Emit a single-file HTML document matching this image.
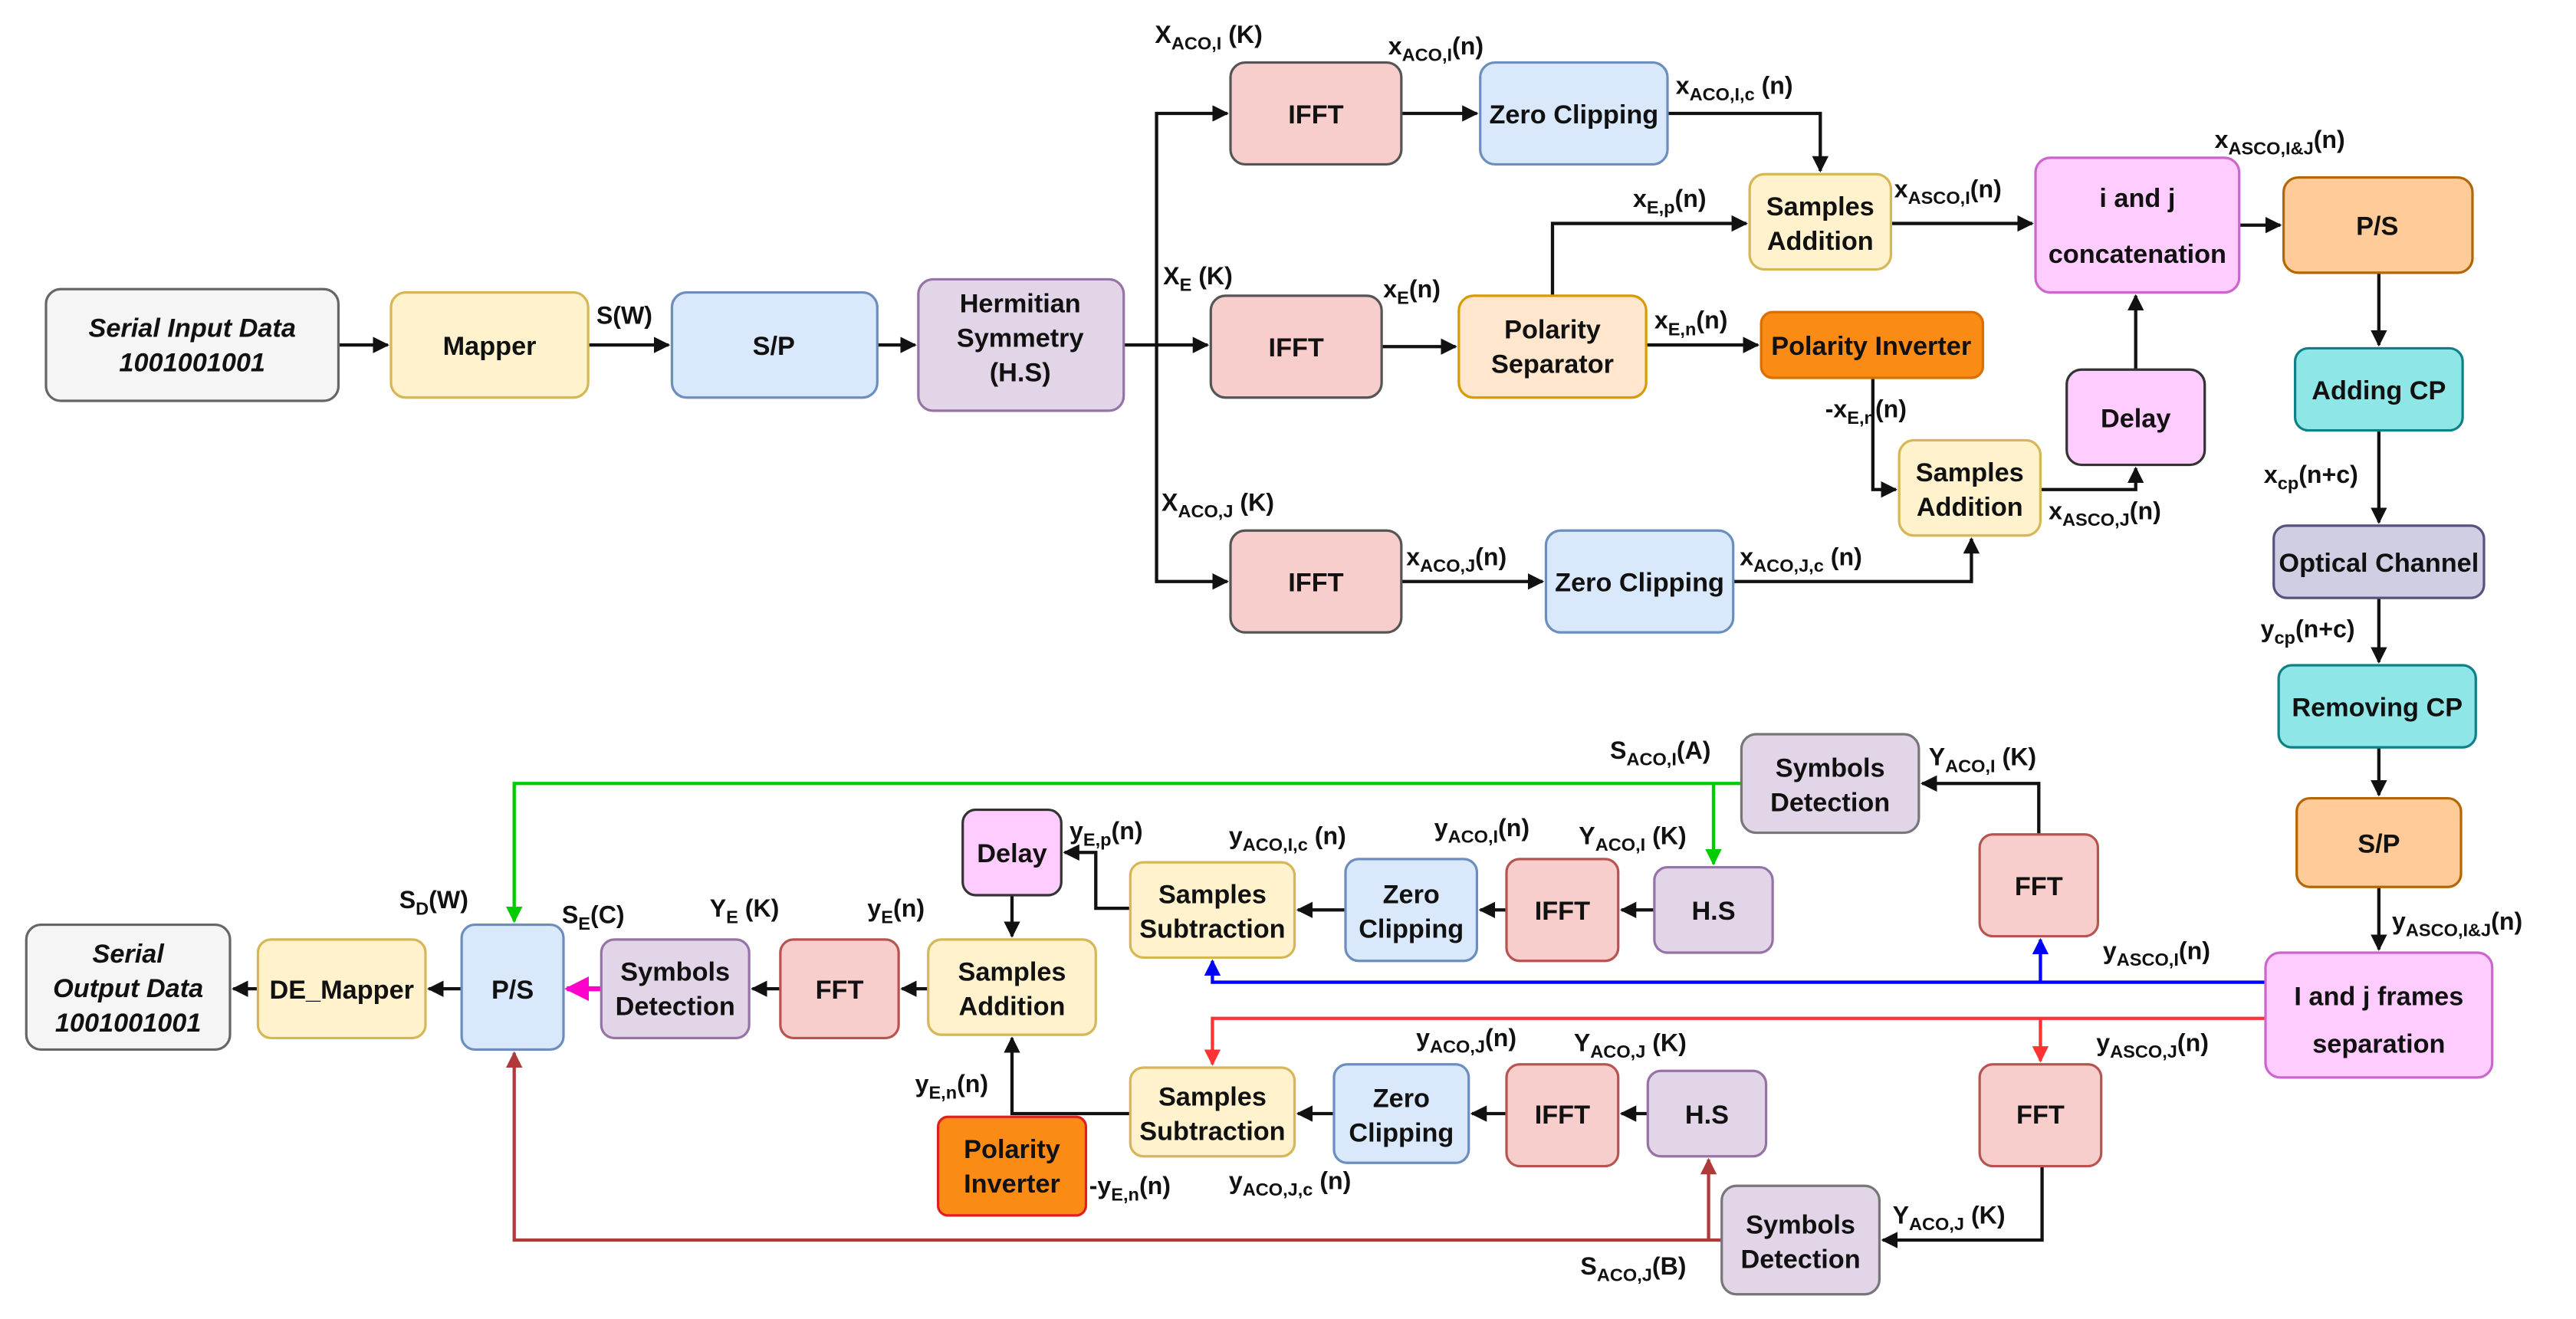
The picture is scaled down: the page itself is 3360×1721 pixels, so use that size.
<!DOCTYPE html>
<html><head><meta charset="utf-8"><style>
html,body{margin:0;padding:0;background:#fff;}
svg{display:block;}
text{font-family:"Liberation Sans",Arial,sans-serif;font-weight:bold;fill:#111;}
.b{font-size:16px;text-anchor:middle;}
.l{font-size:15px;}
.s{font-size:11px;}
</style></head><body>
<svg width="3360" height="1721" viewBox="0 0 1568 803" xmlns="http://www.w3.org/2000/svg">
<defs>
<marker id="a" viewBox="0 0 10 10" refX="9" refY="5" markerWidth="5" markerHeight="5" orient="auto"><path d="M0,0L10,5L0,10z" fill="#111"/></marker>
<marker id="g" viewBox="0 0 10 10" refX="9" refY="5" markerWidth="5" markerHeight="5" orient="auto"><path d="M0,0L10,5L0,10z" fill="#00cc00"/></marker>
<marker id="bl" viewBox="0 0 10 10" refX="9" refY="5" markerWidth="5" markerHeight="5" orient="auto"><path d="M0,0L10,5L0,10z" fill="#0000ff"/></marker>
<marker id="r" viewBox="0 0 10 10" refX="9" refY="5" markerWidth="5" markerHeight="5" orient="auto"><path d="M0,0L10,5L0,10z" fill="#ff3333"/></marker>
<marker id="dr" viewBox="0 0 10 10" refX="9" refY="5" markerWidth="5" markerHeight="5" orient="auto"><path d="M0,0L10,5L0,10z" fill="#b03a3a"/></marker>
<marker id="m" viewBox="0 0 10 10" refX="9" refY="5" markerWidth="5" markerHeight="5" orient="auto"><path d="M0,0L10,5L0,10z" fill="#ff00cc"/></marker>
</defs>
<g fill="none" stroke="#111" stroke-width="2" marker-end="url(#a)">
<path d="M206,210H236"/><path d="M358,210H407"/><path d="M534,210H557"/>
<path d="M684,210H735"/>
<path d="M704,210V69H747"/><path d="M704,210V354H747"/>
<path d="M853,69H899"/><path d="M1015,69H1108V104"/>
<path d="M841,211H886"/><path d="M945,180V136H1063"/>
<path d="M1002,210H1070"/>
<path d="M1140,230V298H1154"/>
<path d="M853,354H939"/><path d="M1055,354H1200V328"/>
<path d="M1151,136H1237"/><path d="M1242,298H1300V285"/>
<path d="M1300,225V180"/>
<path d="M1363,137H1388"/>
<path d="M1448,166V210"/><path d="M1448,262V318"/><path d="M1448,364V403"/><path d="M1448,455V484"/><path d="M1448,540V578"/>
<path d="M1241,508V477H1170"/>
<path d="M1007,554H987"/><path d="M917,554H901"/><path d="M819,554H790"/>
<path d="M688,553H667V519H648"/><path d="M616,545V570"/>
<path d="M565,602H549"/><path d="M475,602H458"/>
<path d="M281,602H261"/><path d="M157,602H142"/>
<path d="M1243,710V755H1146"/>
<path d="M1003,678H987"/><path d="M917,678H896"/><path d="M812,678H790"/>
<path d="M688,678H616V632"/>
</g>
<path d="M1060,477H313V561" fill="none" stroke="#00cc00" stroke-width="2" marker-end="url(#g)"/>
<path d="M1043,477V526" fill="none" stroke="#00cc00" stroke-width="2" marker-end="url(#g)"/>
<path d="M1379,598H738V585" fill="none" stroke="#0000ff" stroke-width="2" marker-end="url(#bl)"/>
<path d="M1242,598V572" fill="none" stroke="#0000ff" stroke-width="2" marker-end="url(#bl)"/>
<path d="M1379,620H738V648" fill="none" stroke="#ff3333" stroke-width="2" marker-end="url(#r)"/>
<path d="M1242,620V646" fill="none" stroke="#ff3333" stroke-width="2" marker-end="url(#r)"/>
<path d="M1048,755H313V641" fill="none" stroke="#b03a3a" stroke-width="2" marker-end="url(#dr)"/>
<path d="M1040,755V706" fill="none" stroke="#b03a3a" stroke-width="2" marker-end="url(#dr)"/>
<path d="M366,602H345" fill="none" stroke="#ff00cc" stroke-width="3" marker-end="url(#m)"/>

<g stroke-width="1.5">
<rect x="28" y="176" width="178" height="68" rx="9" fill="#f5f5f5" stroke="#666"/>
<rect x="238" y="178" width="120" height="64" rx="9" fill="#fff2cc" stroke="#d6b656"/>
<rect x="409" y="178" width="125" height="64" rx="9" fill="#dae8fc" stroke="#6c8ebf"/>
<rect x="559" y="170" width="125" height="80" rx="9" fill="#e1d5e7" stroke="#9673a6"/>
<rect x="749" y="38" width="104" height="62" rx="9" fill="#f8cecc" stroke="#555"/>
<rect x="901" y="38" width="114" height="62" rx="9" fill="#dae8fc" stroke="#6c8ebf"/>
<rect x="737" y="180" width="104" height="62" rx="9" fill="#f8cecc" stroke="#555"/>
<rect x="888" y="180" width="114" height="62" rx="9" fill="#ffe6cc" stroke="#d79b00"/>
<rect x="1072" y="190" width="135" height="40" rx="7" fill="#fa8c16" stroke="#d96f00"/>
<rect x="1065" y="106" width="86" height="58" rx="9" fill="#fff2cc" stroke="#d6b656"/>
<rect x="1239" y="96" width="124" height="82" rx="9" fill="#ffccff" stroke="#cc66cc"/>
<rect x="1390" y="108" width="115" height="58" rx="9" fill="#ffcc99" stroke="#b46504"/>
<rect x="1258" y="225" width="84" height="58" rx="9" fill="#ffccff" stroke="#333"/>
<rect x="1156" y="268" width="86" height="58" rx="9" fill="#fff2cc" stroke="#d6b656"/>
<rect x="749" y="323" width="104" height="62" rx="9" fill="#f8cecc" stroke="#555"/>
<rect x="941" y="323" width="114" height="62" rx="9" fill="#dae8fc" stroke="#6c8ebf"/>
<rect x="1397" y="212" width="102" height="50" rx="8" fill="#8ee6e6" stroke="#0e8088"/>
<rect x="1384" y="320" width="128" height="44" rx="8" fill="#d0cee2" stroke="#56517e"/>
<rect x="1387" y="405" width="120" height="50" rx="8" fill="#8ee6e6" stroke="#0e8088"/>
<rect x="1398" y="486" width="100" height="54" rx="8" fill="#ffcc99" stroke="#b46504"/>
<rect x="1379" y="580" width="138" height="76" rx="9" fill="#ffccff" stroke="#cc66cc"/>
<rect x="1060" y="447" width="108" height="60" rx="9" fill="#e1d5e7" stroke="#777"/>
<rect x="1205" y="508" width="72" height="62" rx="8" fill="#f8cecc" stroke="#b85450"/>
<rect x="1007" y="528" width="72" height="52" rx="8" fill="#e1d5e7" stroke="#9673a6"/>
<rect x="917" y="523" width="68" height="62" rx="8" fill="#f8cecc" stroke="#b85450"/>
<rect x="819" y="523" width="80" height="62" rx="8" fill="#dae8fc" stroke="#6c8ebf"/>
<rect x="688" y="525" width="100" height="58" rx="8" fill="#fff2cc" stroke="#d6b656"/>
<rect x="586" y="493" width="60" height="52" rx="8" fill="#ffccff" stroke="#333"/>
<rect x="565" y="572" width="102" height="58" rx="8" fill="#fff2cc" stroke="#d6b656"/>
<rect x="475" y="572" width="72" height="60" rx="8" fill="#f8cecc" stroke="#b85450"/>
<rect x="366" y="572" width="90" height="60" rx="8" fill="#e1d5e7" stroke="#9673a6"/>
<rect x="281" y="563" width="62" height="76" rx="8" fill="#dae8fc" stroke="#6c8ebf"/>
<rect x="157" y="572" width="102" height="60" rx="8" fill="#fff2cc" stroke="#d6b656"/>
<rect x="16" y="563" width="124" height="76" rx="9" fill="#f5f5f5" stroke="#666"/>
<rect x="1205" y="648" width="74" height="62" rx="8" fill="#f8cecc" stroke="#b85450"/>
<rect x="1003" y="652" width="72" height="52" rx="8" fill="#e1d5e7" stroke="#9673a6"/>
<rect x="917" y="648" width="68" height="62" rx="8" fill="#f8cecc" stroke="#b85450"/>
<rect x="812" y="648" width="82" height="60" rx="8" fill="#dae8fc" stroke="#6c8ebf"/>
<rect x="688" y="650" width="100" height="54" rx="8" fill="#fff2cc" stroke="#d6b656"/>
<rect x="571" y="680" width="90" height="60" rx="6" fill="#fa8c16" stroke="#e02020"/>
<rect x="1048" y="722" width="96" height="66" rx="9" fill="#e1d5e7" stroke="#777"/>
</g>

<g class="b">
<text x="117" y="205" font-style="italic" fill="#333">Serial Input Data</text>
<text x="117" y="226" font-style="italic" fill="#333">1001001001</text>
<text x="298" y="216">Mapper</text>
<text x="471" y="216">S/P</text>
<text x="621" y="190">Hermitian</text><text x="621" y="211">Symmetry</text><text x="621" y="232">(H.S)</text>
<text x="801" y="75">IFFT</text>
<text x="958" y="75">Zero Clipping</text>
<text x="789" y="217">IFFT</text>
<text x="945" y="206">Polarity</text><text x="945" y="227">Separator</text>
<text x="1139" y="216">Polarity Inverter</text>
<text x="1108" y="131">Samples</text><text x="1108" y="152">Addition</text>
<text x="1301" y="126">i and j</text><text x="1301" y="160">concatenation</text>
<text x="1447" y="143">P/S</text>
<text x="1300" y="260">Delay</text>
<text x="1199" y="293">Samples</text><text x="1199" y="314">Addition</text>
<text x="801" y="360">IFFT</text>
<text x="998" y="360">Zero Clipping</text>
<text x="1448" y="243">Adding CP</text>
<text x="1448" y="348">Optical Channel</text>
<text x="1447" y="436">Removing CP</text>
<text x="1448" y="519">S/P</text>
<text x="1448" y="612">I and j frames</text><text x="1448" y="641">separation</text>
<text x="1114" y="473">Symbols</text><text x="1114" y="494">Detection</text>
<text x="1241" y="545">FFT</text>
<text x="1043" y="560">H.S</text>
<text x="951" y="560">IFFT</text>
<text x="859" y="550">Zero</text><text x="859" y="571">Clipping</text>
<text x="738" y="550">Samples</text><text x="738" y="571">Subtraction</text>
<text x="616" y="525">Delay</text>
<text x="616" y="597">Samples</text><text x="616" y="618">Addition</text>
<text x="511" y="608">FFT</text>
<text x="411" y="597">Symbols</text><text x="411" y="618">Detection</text>
<text x="312" y="608">P/S</text>
<text x="208" y="608">DE_Mapper</text>
<text x="78" y="586" font-style="italic" fill="#333">Serial</text>
<text x="78" y="607" font-style="italic" fill="#333">Output Data</text>
<text x="78" y="628" font-style="italic" fill="#333">1001001001</text>
<text x="1242" y="684">FFT</text>
<text x="1039" y="684">H.S</text>
<text x="951" y="684">IFFT</text>
<text x="853" y="674">Zero</text><text x="853" y="695">Clipping</text>
<text x="738" y="673">Samples</text><text x="738" y="694">Subtraction</text>
<text x="616" y="705">Polarity</text><text x="616" y="726">Inverter</text>
<text x="1096" y="751">Symbols</text><text x="1096" y="772">Detection</text>
</g>

<g class="l">
<text x="363" y="197">S(W)</text>
<text x="703" y="26">X<tspan class="s" dy="4">ACO,I</tspan><tspan dy="-4"> (K)</tspan></text>
<text x="845" y="33">x<tspan class="s" dy="4">ACO,I</tspan><tspan dy="-4">(n)</tspan></text>
<text x="1020" y="57">x<tspan class="s" dy="4">ACO,I,c</tspan><tspan dy="-4"> (n)</tspan></text>
<text x="994" y="126">x<tspan class="s" dy="4">E,p</tspan><tspan dy="-4">(n)</tspan></text>
<text x="1153" y="120">x<tspan class="s" dy="4">ASCO,I</tspan><tspan dy="-4">(n)</tspan></text>
<text x="1348" y="90">x<tspan class="s" dy="4">ASCO,I&amp;J</tspan><tspan dy="-4">(n)</tspan></text>
<text x="708" y="173">X<tspan class="s" dy="4">E</tspan><tspan dy="-4"> (K)</tspan></text>
<text x="842" y="181">x<tspan class="s" dy="4">E</tspan><tspan dy="-4">(n)</tspan></text>
<text x="1007" y="200">x<tspan class="s" dy="4">E,n</tspan><tspan dy="-4">(n)</tspan></text>
<text x="1111" y="254">-x<tspan class="s" dy="4">E,n</tspan><tspan dy="-4">(n)</tspan></text>
<text x="1247" y="316">x<tspan class="s" dy="4">ASCO,J</tspan><tspan dy="-4">(n)</tspan></text>
<text x="707" y="311">X<tspan class="s" dy="4">ACO,J</tspan><tspan dy="-4"> (K)</tspan></text>
<text x="856" y="344">x<tspan class="s" dy="4">ACO,J</tspan><tspan dy="-4">(n)</tspan></text>
<text x="1059" y="344">x<tspan class="s" dy="4">ACO,J,c</tspan><tspan dy="-4"> (n)</tspan></text>
<text x="1378" y="294">x<tspan class="s" dy="4">cp</tspan><tspan dy="-4">(n+c)</tspan></text>
<text x="1376" y="388">y<tspan class="s" dy="4">cp</tspan><tspan dy="-4">(n+c)</tspan></text>
<text x="1456" y="566">y<tspan class="s" dy="4">ASCO,I&amp;J</tspan><tspan dy="-4">(n)</tspan></text>
<text x="1280" y="584">y<tspan class="s" dy="4">ASCO,I</tspan><tspan dy="-4">(n)</tspan></text>
<text x="1276" y="640">y<tspan class="s" dy="4">ASCO,J</tspan><tspan dy="-4">(n)</tspan></text>
<text x="1174" y="466">Y<tspan class="s" dy="4">ACO,I</tspan><tspan dy="-4"> (K)</tspan></text>
<text x="980" y="462">S<tspan class="s" dy="4">ACO,I</tspan><tspan dy="-4">(A)</tspan></text>
<text x="961" y="514">Y<tspan class="s" dy="4">ACO,I</tspan><tspan dy="-4"> (K)</tspan></text>
<text x="873" y="509">y<tspan class="s" dy="4">ACO,I</tspan><tspan dy="-4">(n)</tspan></text>
<text x="748" y="514">y<tspan class="s" dy="4">ACO,I,c</tspan><tspan dy="-4"> (n)</tspan></text>
<text x="651" y="511">y<tspan class="s" dy="4">E,p</tspan><tspan dy="-4">(n)</tspan></text>
<text x="528" y="558">y<tspan class="s" dy="4">E</tspan><tspan dy="-4">(n)</tspan></text>
<text x="432" y="558">Y<tspan class="s" dy="4">E</tspan><tspan dy="-4"> (K)</tspan></text>
<text x="342" y="562">S<tspan class="s" dy="4">E</tspan><tspan dy="-4">(C)</tspan></text>
<text x="243" y="553">S<tspan class="s" dy="4">D</tspan><tspan dy="-4">(W)</tspan></text>
<text x="862" y="637">y<tspan class="s" dy="4">ACO,J</tspan><tspan dy="-4">(n)</tspan></text>
<text x="958" y="640">Y<tspan class="s" dy="4">ACO,J</tspan><tspan dy="-4"> (K)</tspan></text>
<text x="557" y="665">y<tspan class="s" dy="4">E,n</tspan><tspan dy="-4">(n)</tspan></text>
<text x="663" y="727">-y<tspan class="s" dy="4">E,n</tspan><tspan dy="-4">(n)</tspan></text>
<text x="748" y="724">y<tspan class="s" dy="4">ACO,J,c</tspan><tspan dy="-4"> (n)</tspan></text>
<text x="1152" y="745">Y<tspan class="s" dy="4">ACO,J</tspan><tspan dy="-4"> (K)</tspan></text>
<text x="962" y="776">S<tspan class="s" dy="4">ACO,J</tspan><tspan dy="-4">(B)</tspan></text>
</g>
</svg>
</body></html>
